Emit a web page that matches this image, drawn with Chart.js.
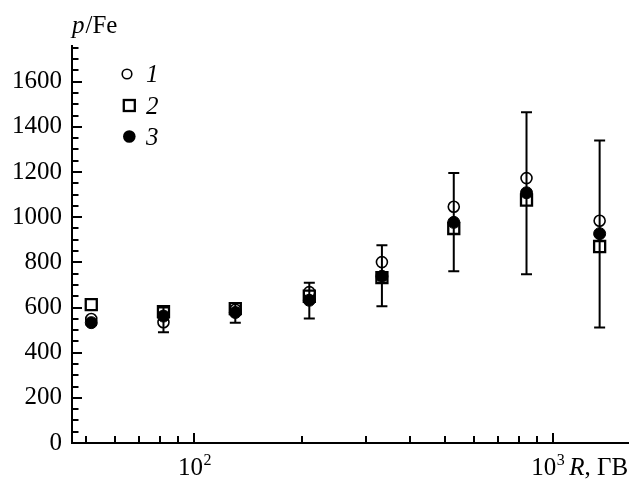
<!DOCTYPE html>
<html>
<head>
<meta charset="utf-8">
<script src="https://cdn.jsdelivr.net/npm/chart.js@4.4.0/dist/chart.umd.min.js"></script>
<style>
html,body{margin:0;padding:0;background:#fff;}
canvas{display:block;}
</style>
</head>
<body>
<canvas id="c" width="639" height="479"></canvas>
<script>
// ---- data ----
const rigidity = [51.6, 82, 130, 209, 333, 528, 842, 1346];      // R, GV
const series1 = [549, 535, 590, 668, 801, 1046, 1173, 984];      // open circles
const series2 = [613, 582, 595, 650, 732, 950, 1076, 870];       // open squares
const series3 = [533, 562, 578, 632, 738, 977, 1108, 927];       // filled circles
const series3Low = [522, 490, 532, 551, 606, 761, 747, 512];     // error bar bottom
const series3High = [544, 600, 620, 710, 876, 1196, 1465, 1339]; // error bar top
const seriesNames = ['1', '2', '3'];
const yTickValues = [0, 200, 400, 600, 800, 1000, 1200, 1400, 1600];
const yTickLabels = ['0', '200', '400', '600', '800', '1000', '1200', '1400', '1600'];
const yMinorStep = 50;
const xMajorTicks = [100, 1000];
const xMajorExp = ['2', '3'];
const xMinorTicks = [50, 60, 70, 80, 90, 200, 300, 400, 500, 600, 700, 800, 900];
const yTitleItalic = 'p';
const yTitleRest = '/Fe';
const xTitleItalic = 'R';
const xTitleRest = ', ГВ';

const FONT = "'Liberation Serif', 'Times New Roman', serif";

function pts(ys){ return rigidity.map((x,i)=>({x:x, y:ys[i]})); }

const decor = {
  id: 'decor',
  beforeDatasetsDraw(chart){
    const ctx = chart.ctx, xs = chart.scales.x, ys = chart.scales.y;
    ctx.save();
    ctx.strokeStyle = '#000';
    ctx.lineWidth = 2;
    rigidity.forEach((r,i)=>{
      const px = xs.getPixelForValue(r);
      const y1 = ys.getPixelForValue(series3Low[i]);
      const y2 = ys.getPixelForValue(series3High[i]);
      ctx.beginPath();
      ctx.moveTo(px, y1); ctx.lineTo(px, y2);
      ctx.moveTo(px-5.5, y1); ctx.lineTo(px+5.5, y1);
      ctx.moveTo(px-5.5, y2); ctx.lineTo(px+5.5, y2);
      ctx.stroke();
    });
    ctx.restore();
  },
  afterDraw(chart){
    const ctx = chart.ctx, xs = chart.scales.x, ys = chart.scales.y;
    const area = chart.chartArea;
    ctx.save();
    ctx.strokeStyle = '#000';
    ctx.fillStyle = '#000';
    ctx.lineWidth = 2;
    // y ticks (inward)
    for (let v = 0; v <= ys.max; v += yMinorStep) {
      const py = Math.round(ys.getPixelForValue(v));
      const len = (v % 200 === 0) ? 10 : 6.5;
      ctx.beginPath();
      ctx.moveTo(area.left, py); ctx.lineTo(area.left + len, py);
      ctx.stroke();
    }
    // x ticks (inward)
    xMinorTicks.concat(xMajorTicks).forEach(v=>{
      const px = Math.round(xs.getPixelForValue(v));
      const len = xMajorTicks.includes(v) ? 10 : 7;
      ctx.beginPath();
      ctx.moveTo(px, area.bottom); ctx.lineTo(px, area.bottom - len);
      ctx.stroke();
    });
    // x labels
    ctx.textBaseline = 'alphabetic';
    ctx.textAlign = 'left';
    const base = 475;
    xMajorTicks.forEach((v,i)=>{
      const px = xs.getPixelForValue(v);
      ctx.font = '25px ' + FONT;
      const w10 = ctx.measureText('10').width;
      ctx.font = '16px ' + FONT;
      const wSup = ctx.measureText(xMajorExp[i]).width;
      let start;
      if (i === 0) start = px - (w10 + wSup)/2;
      else start = px - 22;
      ctx.font = '25px ' + FONT;
      ctx.fillText('10', start, base);
      ctx.font = '16px ' + FONT;
      ctx.fillText(xMajorExp[i], start + w10 + 0.5, base - 10);
      if (i === xMajorTicks.length - 1) {
        let x = start + w10 + wSup + 5;
        ctx.font = 'italic 25px ' + FONT;
        ctx.fillText(xTitleItalic, x, base);
        x += ctx.measureText(xTitleItalic).width;
        ctx.font = '25px ' + FONT;
        ctx.fillText(xTitleRest, x, base);
      }
    });
    // y title
    ctx.font = 'italic 25px ' + FONT;
    ctx.fillText(yTitleItalic, 72, 33);
    const wp = ctx.measureText(yTitleItalic).width;
    ctx.font = '25px ' + FONT;
    ctx.fillText(yTitleRest, 72 + wp + 1, 33);
    // legend
    const rows = [74, 105.5, 136.5];
    ctx.lineWidth = 1.6;
    ctx.beginPath(); ctx.arc(127, rows[0], 4.8, 0, Math.PI*2); ctx.stroke();
    ctx.lineWidth = 2.3;
    ctx.strokeRect(129.3 - 5.5, rows[1] - 5.5, 11, 11);
    ctx.beginPath(); ctx.arc(129.3, rows[2], 6.3, 0, Math.PI*2); ctx.fill();
    ctx.font = 'italic 25px ' + FONT;
    seriesNames.forEach((n,i)=>{
      ctx.fillText(n, 146, rows[i] + 8);
    });
    ctx.restore();
  }
};

new Chart(document.getElementById('c'), {
  type: 'scatter',
  data: {
    datasets: [
      { label: seriesNames[0], data: pts(series1), order: 2, pointStyle: 'circle',
        pointRadius: 5.5, pointBorderWidth: 1.6, borderColor: '#000', backgroundColor: 'rgba(0,0,0,0)',
        pointBorderColor: '#000', pointBackgroundColor: 'rgba(0,0,0,0)', showLine: false },
      { label: seriesNames[1], data: pts(series2), order: 3, pointStyle: 'rect',
        pointRadius: 7.8, pointBorderWidth: 2.3, borderColor: '#000', backgroundColor: 'rgba(0,0,0,0)',
        pointBorderColor: '#000', pointBackgroundColor: 'rgba(0,0,0,0)', showLine: false },
      { label: seriesNames[2], data: pts(series3), order: 1, pointStyle: 'circle',
        pointRadius: 6, pointBorderWidth: 1, borderColor: '#000', backgroundColor: '#000',
        pointBorderColor: '#000', pointBackgroundColor: '#000', showLine: false }
    ]
  },
  options: {
    responsive: false,
    animation: false,
    events: [],
    layout: { padding: { left: 0, right: 7, top: 46, bottom: 0 } },
    plugins: { legend: { display: false }, tooltip: { enabled: false }, title: { display: false } },
    scales: {
      x: {
        type: 'logarithmic',
        min: 45.6, max: 1624,
        grid: { display: false, drawTicks: false },
        border: { display: true, color: '#000', width: 2 },
        ticks: { display: false },
        afterFit(s){ s.height = 36; }
      },
      y: {
        type: 'linear',
        min: 0, max: 1758,
        grid: { display: false, drawTicks: false },
        border: { display: true, color: '#000', width: 2 },
        afterBuildTicks(s){ s.ticks = yTickValues.map(v=>({value:v})); },
        ticks: {
          color: '#000', padding: 10, font: { family: FONT, size: 25 }, autoSkip: false,
          callback(value){ const i = yTickValues.indexOf(value); return i >= 0 ? yTickLabels[i] : ''; }
        },
        afterFit(s){ s.width = 72; }
      }
    }
  },
  plugins: [decor]
});
</script>
</body>
</html>
